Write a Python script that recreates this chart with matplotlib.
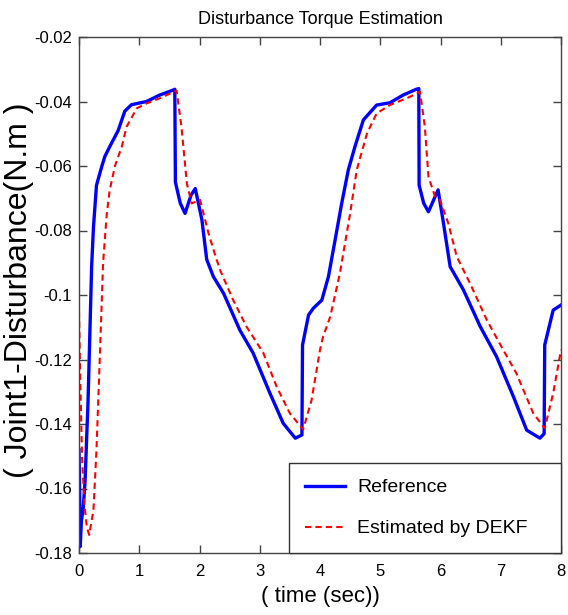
import matplotlib.pyplot as plt

plt.rcParams['font.family'] = ['Liberation Sans', 'DejaVu Sans']

# Reference (blue) - time [s], torque [N.m]
t_ref = [0.00, 0.01, 0.02, 0.04, 0.07, 0.10, 0.15, 0.18, 0.21, 0.24, 0.29, 0.38,
         0.43, 0.51, 0.65, 0.76, 0.87, 1.12, 1.34, 1.57, 1.59, 1.60, 1.68, 1.76,
         1.86, 1.93, 2.04, 2.12, 2.23, 2.40, 2.67, 2.89, 3.17, 3.39, 3.59, 3.70,
         3.71, 3.81, 3.89, 4.03, 4.14, 4.25, 4.36, 4.47, 4.58, 4.72, 4.94, 5.16,
         5.38, 5.60, 5.64, 5.645, 5.72, 5.80, 5.96, 6.05, 6.16, 6.38, 6.66, 6.93,
         7.21, 7.43, 7.65, 7.72, 7.73, 7.87, 8.00]
v_ref = [-0.148, -0.160, -0.178, -0.170, -0.166, -0.158, -0.133, -0.112, -0.091,
         -0.079, -0.066, -0.060, -0.057, -0.054, -0.049, -0.043, -0.041, -0.040,
         -0.038, -0.0364, -0.0362, -0.065, -0.0715, -0.0747, -0.069, -0.067,
         -0.0767, -0.089, -0.0943, -0.0995, -0.1109, -0.118, -0.1305, -0.1398,
         -0.1444, -0.1434, -0.1155, -0.1062, -0.1041, -0.1016, -0.0943, -0.083,
         -0.0716, -0.0612, -0.054, -0.0457, -0.0411, -0.0404, -0.038, -0.0362,
         -0.0360, -0.0659, -0.0715, -0.0742, -0.0674, -0.0778, -0.0912, -0.0984,
         -0.1098, -0.1191, -0.1315, -0.1419, -0.1444, -0.1430, -0.1155, -0.1047,
         -0.1031]

# Estimated by DEKF (red dashed)
t_est = [0.00, 0.02, 0.05, 0.09, 0.13, 0.17, 0.24, 0.29, 0.35, 0.40, 0.46, 0.51,
         0.60, 0.71, 0.79, 0.96, 1.12, 1.34, 1.62, 1.70, 1.79, 1.87, 2.01, 2.15,
         2.26, 2.34, 2.56, 2.78, 3.06, 3.28, 3.50, 3.72, 3.86, 4.00, 4.05, 4.17,
         4.33, 4.50, 4.61, 4.78, 4.94, 5.16, 5.44, 5.66, 5.74, 5.80, 5.91, 5.99,
         6.13, 6.27, 6.49, 6.77, 7.04, 7.26, 7.54, 7.73, 7.87, 8.00]
v_est = [-0.105, -0.125, -0.150, -0.165, -0.172, -0.1744, -0.1667, -0.148, -0.117,
         -0.090, -0.075, -0.0674, -0.0598, -0.054, -0.0478, -0.0421, -0.0406,
         -0.039, -0.0366, -0.0478, -0.0654, -0.0716, -0.0705, -0.0809, -0.0876,
         -0.0922, -0.1016, -0.1098, -0.118, -0.1284, -0.1367, -0.1417, -0.1326,
         -0.117, -0.113, -0.1067, -0.0933, -0.0747, -0.0612, -0.0499, -0.0437,
         -0.0411, -0.039, -0.037, -0.0478, -0.0633, -0.0695, -0.0705, -0.0778,
         -0.0881, -0.0964, -0.1078, -0.117, -0.1243, -0.1367, -0.1413, -0.1305,
         -0.117]

x_ticks = [0, 1, 2, 3, 4, 5, 6, 7, 8]
y_ticks = [-0.18, -0.16, -0.14, -0.12, -0.1, -0.08, -0.06, -0.04, -0.02]
y_tick_labels = ['-0.18', '-0.16', '-0.14', '-0.12', '-0.1', '-0.08', '-0.06', '-0.04', '-0.02']

fig = plt.figure(figsize=(5.68, 6.15), dpi=100, facecolor='white')
ax = fig.add_axes([79 / 568, 1 - 553 / 615, 482 / 568, 516 / 615])

ax.plot(t_ref, v_ref, color='#0000ff', lw=2.4, label='Reference')
ax.plot(t_est, v_est, color='#ff0000', lw=1.5, ls=(0, (3, 2)), label='Estimated by DEKF')

ax.set_xlim(0, 8)
ax.set_ylim(-0.18, -0.02)
ax.set_xticks(x_ticks)
ax.set_yticks(y_ticks)
ax.set_yticklabels(y_tick_labels)
ax.tick_params(direction='in', length=6, width=1, color='#444444',
               top=True, right=True, labelsize=12)
ax.tick_params(axis='x', pad=8)
ax.tick_params(axis='y', pad=5)
for s in ax.spines.values():
    s.set_color('#444444')
    s.set_linewidth(1)

ax.set_title('Disturbance Torque Estimation', fontsize=13, pad=9)
ax.set_xlabel('( time (sec))', fontsize=16, labelpad=5)
fig.text(19 / 568, 1 - 290 / 615, '( Joint1-Disturbance(N.m )', rotation=90,
         ha='center', va='center', fontsize=23)

leg = ax.legend(loc='lower left', bbox_to_anchor=(0.4357, 0.0, 0.5643, 0.178),
                mode='expand', borderaxespad=0, fancybox=False, framealpha=1,
                edgecolor='#333333', fontsize=14, handlelength=2.1,
                handletextpad=0.6, borderpad=0.8, labelspacing=1.2)
leg.get_frame().set_linewidth(1)

fig.savefig('out.png', dpi=100)
